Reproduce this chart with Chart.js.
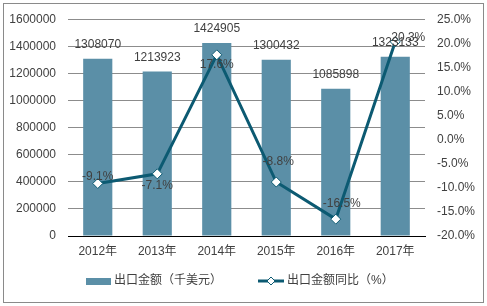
<!DOCTYPE html>
<html lang="zh">
<head>
    <meta charset="UTF-8">
    <title>出口金额及同比</title>
    <script src="https://cdn.jsdelivr.net/npm/chart.js"></script>
    <style>
        html, body {
            margin: 0;
            padding: 0;
            background: #fff;
        }
        #wrap {
            width: 487px;
            height: 306px;
        }
    </style>
</head>
<body>
<div id="wrap"><canvas id="chart" width="487" height="306"></canvas></div>
<script>
    // 数据
    const years = ['2012年', '2013年', '2014年', '2015年', '2016年', '2017年'];
    const exportValue = [1308070, 1213923, 1424905, 1300432, 1085898, 1323133];
    const yoyPct = [-9.1, -7.1, 17.6, -8.8, -16.5, 20.3];
    const barName = '出口金额（千美元）';
    const lineName = '出口金额同比（%）';

    const BAR_COLOR = '#5b8fa7';
    const LINE_COLOR = '#0c5a72';
    const TEXT_COLOR = '#404040';
    const FONT = '"Liberation Sans", Arial, "Noto Sans CJK SC", sans-serif';

    // 折线数据标签相对点的偏移
    const lineLabelOffsets = [[0, -7], [0, 12], [0, 10], [2, -20], [6, -15], [13, -4]];

    const labelsPlugin = {
        id: 'labels',
        beforeDraw(chart) {
            const c = chart.ctx;
            c.save();
            c.fillStyle = '#fff';
            c.fillRect(0, 0, chart.width, chart.height);
            c.restore();
        },
        afterDatasetsDraw(chart) {
            const c = chart.ctx;
            c.save();
            c.font = '12px ' + FONT;
            c.fillStyle = TEXT_COLOR;
            c.textAlign = 'center';
            c.textBaseline = 'middle';
            chart.getDatasetMeta(1).data.forEach((bar, i) => {
                c.fillText(String(exportValue[i]), bar.x, bar.y - 14);
            });
            chart.getDatasetMeta(0).data.forEach((pt, i) => {
                const o = lineLabelOffsets[i];
                c.fillText(yoyPct[i].toFixed(1) + '%', pt.x + o[0], pt.y + o[1]);
            });
            c.restore();
        },
        afterDraw(chart) {
            const c = chart.ctx;
            c.save();
            // 外框
            c.strokeStyle = '#8a8a8a';
            c.lineWidth = 1;
            c.strokeRect(3.5, 3.5, 480, 299);

            // 图例
            const ly = 281;
            c.fillStyle = BAR_COLOR;
            c.fillRect(86, 278, 25, 7);
            c.font = '12px ' + FONT;
            c.fillStyle = TEXT_COLOR;
            c.textBaseline = 'middle';
            c.textAlign = 'left';
            c.fillText(barName, 114, ly);

            c.strokeStyle = LINE_COLOR;
            c.lineWidth = 3;
            c.beginPath();
            c.moveTo(258, ly);
            c.lineTo(284, ly);
            c.stroke();
            c.fillStyle = '#fff';
            c.lineWidth = 1;
            c.beginPath();
            c.moveTo(271, ly - 4);
            c.lineTo(275, ly);
            c.lineTo(271, ly + 4);
            c.lineTo(267, ly);
            c.closePath();
            c.fill();
            c.stroke();
            c.fillStyle = TEXT_COLOR;
            c.fillText(lineName, 287, ly);
            c.restore();
        }
    };

    const ctx = document.getElementById('chart').getContext('2d');
    new Chart(ctx, {
        data: {
            labels: years,
            datasets: [
                {
                    type: 'line',
                    label: lineName,
                    data: yoyPct,
                    yAxisID: 'y1',
                    borderColor: LINE_COLOR,
                    borderWidth: 3,
                    tension: 0,
                    pointStyle: 'rectRot',
                    pointRadius: 5,
                    pointBackgroundColor: '#fff',
                    pointBorderColor: LINE_COLOR,
                    pointBorderWidth: 1,
                    order: 0
                },
                {
                    type: 'bar',
                    label: barName,
                    data: exportValue,
                    yAxisID: 'y',
                    backgroundColor: BAR_COLOR,
                    categoryPercentage: 1,
                    barPercentage: 0.49,
                    order: 1
                }
            ]
        },
        options: {
            responsive: false,
            animation: false,
            devicePixelRatio: 1,
            layout: {
                padding: { top: 16, bottom: 46, left: 0, right: 0 }
            },
            plugins: {
                legend: { display: false },
                tooltip: { enabled: false }
            },
            scales: {
                x: {
                    grid: { display: false, drawTicks: false },
                    border: { color: '#000', width: 1 },
                    ticks: { color: TEXT_COLOR, font: { size: 12, family: FONT }, padding: 8 },
                    afterFit(scale) { scale.height = 24; }
                },
                y: {
                    position: 'left',
                    min: 0,
                    max: 1600000,
                    ticks: {
                        stepSize: 200000,
                        color: TEXT_COLOR,
                        font: { size: 12, family: FONT },
                        padding: 12,
                        callback: v => String(v)
                    },
                    grid: { color: '#8c8c8c', drawTicks: false },
                    border: { display: false },
                    afterFit(scale) { scale.width = 68; }
                },
                y1: {
                    position: 'right',
                    min: -20,
                    max: 25,
                    ticks: {
                        stepSize: 5,
                        color: TEXT_COLOR,
                        font: { size: 12, family: FONT },
                        padding: 12,
                        callback: v => v.toFixed(1) + '%'
                    },
                    grid: { drawOnChartArea: false, drawTicks: false },
                    border: { display: false },
                    afterFit(scale) { scale.width = 62; }
                }
            }
        },
        plugins: [labelsPlugin]
    });
</script>
</body>
</html>
